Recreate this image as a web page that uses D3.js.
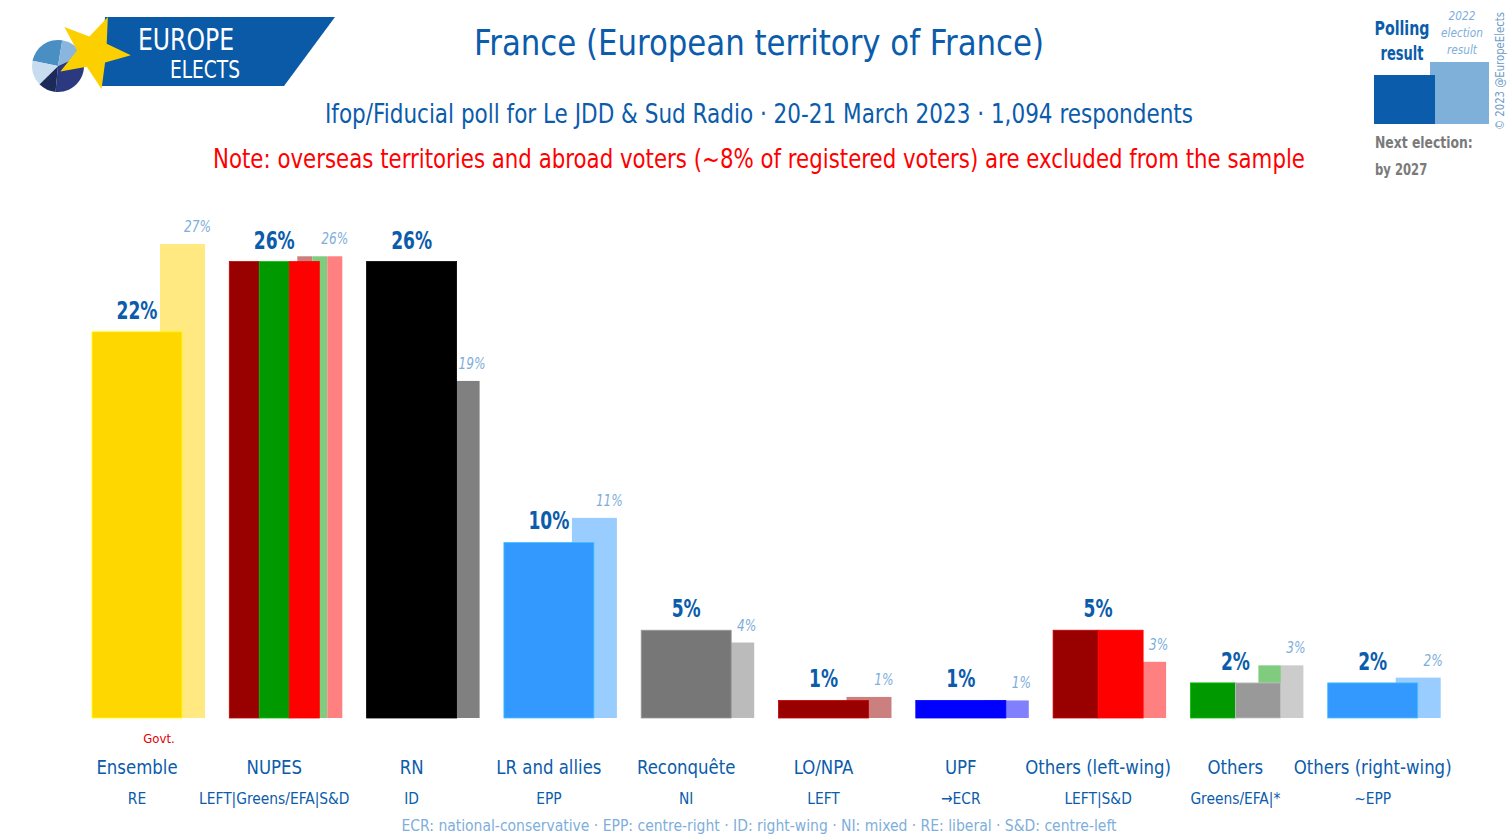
<!DOCTYPE html>
<html>
<head>
<meta charset="utf-8">
<script src="https://cdn.jsdelivr.net/npm/d3@7"></script>
<style>
  body { margin: 0; background: #fff; }
  svg { display: block; font-family: "Liberation Sans Narrow", "DejaVu Sans Condensed", "Roboto", sans-serif; }
</style>
</head>
<body>
<div id="chart"></div>
<script>
// poll data
const parties = ["Ensemble", "NUPES", "RN", "LR and allies", "Reconquête", "LO/NPA", "UPF", "Others (left-wing)", "Others", "Others (right-wing)"];
const groups = ["RE", "LEFT|Greens/EFA|S&D", "ID", "EPP", "NI", "LEFT", "→ECR", "LEFT|S&D", "Greens/EFA|*", "~EPP"];
const poll = [22, 26, 26, 10, 5, 1, 1, 5, 2, 2];
const election = [27, 26.3, 19.2, 11.4, 4.3, 1.2, 1.0, 3.2, 3.0, 2.3];
const pollColors = [["#ffd700"], ["#990000", "#009900", "#ff0000"], ["#000000"], ["#3399ff"], ["#777777"], ["#990000"], ["#0000ff"], ["#990000", "#ff0000"], ["#009900", "#999999"], ["#3399ff"]];
const electionColors = [["#ffe980"], ["#cc7f7f", "#7fcc7f", "#ff8080"], ["#808080"], ["#99ccff"], ["#bbbbbb"], ["#cc7f7f"], ["#8080ff"], ["#ff8080"], ["#7fcc7f", "#cccccc"], ["#99ccff"]];
const footnote = "ECR: national-conservative · EPP: centre-right · ID: right-wing · NI: mixed · RE: liberal · S&D: centre-left";

const W = 1510, H = 840;
const blue = "#0b5cab", lightBlue = "#7eaedb";

const svg = d3.select("#chart").append("svg")
  .attr("width", W).attr("height", H);

// squeeze a text to a share of its natural width (the original font is narrower)
function squeeze(t, k) {
  const w = t.node().getComputedTextLength();
  t.attr("textLength", w * k).attr("lengthAdjust", "spacingAndGlyphs");
  return t;
}

const x = d3.scaleBand().domain(parties).range([92, 92 + 137.3 * 10]).padding(0);
const y = d3.scaleLinear().domain([0, 27]).range([718, 244]);
const pollW = 90, elecW = 45, elecOff = 68;

// election bars (behind)
parties.forEach((p, i) => {
  const cols = electionColors[i];
  const sw = elecW / cols.length;
  svg.append("g").selectAll("rect").data(cols).join("rect")
    .attr("x", (c, j) => x(p) + elecOff + j * sw)
    .attr("y", y(election[i]))
    .attr("width", sw)
    .attr("height", y(0) - y(election[i]))
    .attr("fill", c => c);
  const t = svg.append("text")
    .attr("x", x(p) + elecOff + elecW / 2 + 15)
    .attr("y", y(election[i]) - 12)
    .attr("text-anchor", "middle")
    .attr("font-size", 15).attr("font-style", "italic")
    .attr("fill", lightBlue)
    .text(d3.format(".0f")(election[i]) + "%");
  squeeze(t, 0.9);
});

// poll bars
parties.forEach((p, i) => {
  const cols = pollColors[i];
  const sw = pollW / cols.length;
  svg.append("g").selectAll("rect").data(cols).join("rect")
    .attr("x", (c, j) => x(p) + j * sw)
    .attr("y", y(poll[i]))
    .attr("width", sw)
    .attr("height", y(0) - y(poll[i]))
    .attr("fill", c => c)
    .attr("stroke", c => d3.color(c).brighter(0.7))
    .attr("stroke-width", 0.8);
  const v = svg.append("text")
    .attr("x", x(p) + pollW / 2)
    .attr("y", y(poll[i]) - 13)
    .attr("text-anchor", "middle")
    .attr("font-size", 25).attr("font-weight", "bold")
    .attr("fill", blue)
    .text(poll[i] + "%");
  squeeze(v, 0.76);
  const n = svg.append("text")
    .attr("x", x(p) + pollW / 2).attr("y", 774)
    .attr("text-anchor", "middle")
    .attr("font-size", 20).attr("fill", blue)
    .text(p);
  squeeze(n, 0.92);
  const g = svg.append("text")
    .attr("x", x(p) + pollW / 2).attr("y", 804)
    .attr("text-anchor", "middle")
    .attr("font-size", 16).attr("fill", blue)
    .text(groups[i]);
  squeeze(g, 0.96);
});

svg.append("text").attr("x", 159).attr("y", 743)
  .attr("text-anchor", "middle").attr("font-size", 13).attr("fill", "#e00000")
  .text("Govt.");

svg.append("text").attr("x", 759).attr("y", 831)
  .attr("text-anchor", "middle").attr("font-size", 16).attr("fill", lightBlue)
  .attr("textLength", 715).attr("lengthAdjust", "spacingAndGlyphs")
  .text(footnote);

// titles
svg.append("text").attr("x", 759).attr("y", 55)
  .attr("text-anchor", "middle").attr("font-size", 36).attr("fill", blue)
  .attr("textLength", 570).attr("lengthAdjust", "spacingAndGlyphs")
  .text("France (European territory of France)");
svg.append("text").attr("x", 759).attr("y", 123)
  .attr("text-anchor", "middle").attr("font-size", 27).attr("fill", blue)
  .attr("textLength", 868).attr("lengthAdjust", "spacingAndGlyphs")
  .text("Ifop/Fiducial poll for Le JDD & Sud Radio · 20-21 March 2023 · 1,094 respondents");
svg.append("text").attr("x", 759).attr("y", 168)
  .attr("text-anchor", "middle").attr("font-size", 27).attr("fill", "#ff0000")
  .attr("textLength", 1092).attr("lengthAdjust", "spacingAndGlyphs")
  .text("Note: overseas territories and abroad voters (~8% of registered voters) are excluded from the sample");

// logo
const logo = svg.append("g");
logo.append("path").attr("d", "M105,17 L335,17 L284,86 L100,86 Z").attr("fill", "#0a5aa8");
const pie = d3.pie().sort(null).startAngle(-Math.PI / 2 + 0.2);
const arc = d3.arc().innerRadius(0).outerRadius(26);
const pieCols = ["#4a8fc4", "#8ab6de", "#2b3a80", "#1c2a5a", "#c7dcef"];
logo.append("g").attr("transform", "translate(58,66)")
  .selectAll("path").data(pie([22, 14, 30, 10, 14])).join("path")
  .attr("d", arc).attr("fill", (d, i) => pieCols[i]);
const starPts = d3.range(10).map(k => {
  const r = k % 2 === 0 ? 38 : 16;
  const a = (k * Math.PI / 5) + 23 * Math.PI / 180;
  return [93 + r * Math.sin(a), 52 - r * Math.cos(a)];
});
logo.append("polygon").attr("points", starPts.map(p => p.join(",")).join(" ")).attr("fill", "#fcd000");
logo.append("text").attr("x", 138).attr("y", 50).attr("font-size", 30).attr("fill", "#fff")
  .attr("textLength", 96).attr("lengthAdjust", "spacingAndGlyphs").text("EUROPE");
logo.append("text").attr("x", 170).attr("y", 78).attr("font-size", 25).attr("fill", "#fff")
  .attr("textLength", 70).attr("lengthAdjust", "spacingAndGlyphs").text("ELECTS");

// top-right legend
const lg = svg.append("g");
lg.append("rect").attr("x", 1430).attr("y", 62).attr("width", 59).attr("height", 62).attr("fill", "#7fb0da");
lg.append("rect").attr("x", 1374).attr("y", 75).attr("width", 61).attr("height", 49).attr("fill", "#0b5cab");
lg.append("text").attr("x", 1402).attr("y", 35).attr("text-anchor", "middle").attr("font-size", 19)
  .attr("font-weight", "bold").attr("fill", blue)
  .attr("textLength", 55).attr("lengthAdjust", "spacingAndGlyphs").text("Polling");
lg.append("text").attr("x", 1402).attr("y", 60).attr("text-anchor", "middle").attr("font-size", 19)
  .attr("font-weight", "bold").attr("fill", blue)
  .attr("textLength", 43).attr("lengthAdjust", "spacingAndGlyphs").text("result");
["2022", "election", "result"].forEach((t, i) => {
  const e = lg.append("text").attr("x", 1462).attr("y", 20 + i * 17).attr("text-anchor", "middle")
    .attr("font-size", 13).attr("font-style", "italic").attr("fill", lightBlue).text(t);
  squeeze(e, 0.9);
});
const ne = lg.append("text").attr("x", 1375).attr("y", 148).attr("font-size", 16).attr("font-weight", "bold")
  .attr("fill", "#7a7a7a").text("Next election:");
squeeze(ne, 0.86);
const by = lg.append("text").attr("x", 1375).attr("y", 175).attr("font-size", 15).attr("font-weight", "bold")
  .attr("fill", "#7a7a7a").text("by 2027");
squeeze(by, 0.86);
lg.append("text").attr("transform", "translate(1504,130) rotate(-90)")
  .attr("font-size", 12).attr("fill", "#6f9cc8")
  .attr("textLength", 118).attr("lengthAdjust", "spacingAndGlyphs")
  .text("© 2023 @EuropeElects");
</script>
</body>
</html>
